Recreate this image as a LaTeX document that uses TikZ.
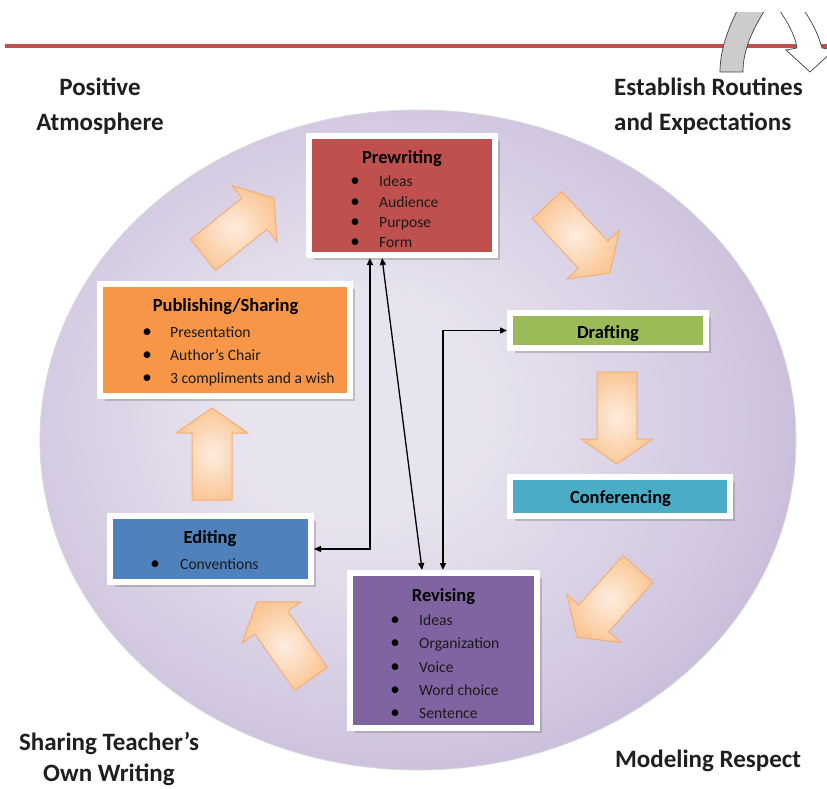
\documentclass[tikz,border=0pt]{standalone}
\usepackage{fontspec}
\setmainfont{Carlito}
\usetikzlibrary{calc,arrows.meta,shadows}
\definecolor{cred}{HTML}{C0504D}
\definecolor{corange}{HTML}{F79646}
\definecolor{cgreen}{HTML}{9BBB59}
\definecolor{ccyan}{HTML}{4BACC6}
\definecolor{cblue}{HTML}{4F81BD}
\definecolor{cpurple}{HTML}{8064A2}
\definecolor{circin}{HTML}{E8E4EF}
\definecolor{circmid}{HTML}{D2C7E0}
\definecolor{circout}{HTML}{B8A4CD}
\definecolor{peachin}{HTML}{FEEDE0}
\definecolor{peachout}{HTML}{FAC898}
\definecolor{peachline}{HTML}{F2AE74}
\definecolor{txt}{HTML}{1A1A1A}
\pgfdeclareradialshading{circshade}{\pgfpoint{-5bp}{3bp}}{%
  color(0bp)=(circin); color(8bp)=(circin); color(24bp)=(circmid); color(38bp)=(circout); color(50bp)=(circout)}
\newcommand\blockarrow[2]{%
  \coordinate (T) at (#1);
  \coordinate (P) at (#2);
  \coordinate (B) at ($(P)!25pt!(T)$);
  \shadedraw[bigarrow] ($(T)!20pt!90:(P)$) -- ($(B)!20pt!-90:(T)$) -- ($(B)!36pt!-90:(T)$) -- (P)
    -- ($(B)!36pt!90:(T)$) -- ($(B)!20pt!90:(T)$) -- ($(T)!20pt!-90:(P)$) -- cycle;}
\begin{document}
\begin{tikzpicture}[x=1pt,y=-1pt,
  stagebox/.style={draw=white, line width=6pt, inner sep=0pt,
    drop shadow={shadow xshift=4.5pt, shadow yshift=-5pt, fill=black!55, opacity=.35}},
  ttl/.style={font=\fontsize{18.5}{20}\selectfont\bfseries, anchor=base, inner sep=0pt, text=black},
  itm/.style={font=\fontsize{15.6}{17}\selectfont, anchor=base west, inner sep=0pt, text=txt},
  blt/.style={font=\fontsize{19}{17}\selectfont, anchor=base, inner sep=0pt, text=black},
  corner/.style={font=\fontsize{25}{28}\selectfont\bfseries, inner sep=0pt, text=black!88},
  conn/.style={line width=1.3pt, {Triangle[length=7pt,width=6pt]}-{Triangle[length=7pt,width=6pt]}},
  bigarrow/.style={inner color=peachin, outer color=peachout, draw=peachline, line width=1pt, line join=round}]
\useasboundingbox (0,0) rectangle (827,789);
\fill[white] (0,0) rectangle (827,789);

% background circle
\path[shading=circshade, draw=black!15, line width=0.8pt]
  (418,440) ellipse [x radius=378, y radius=330];

% header rule and icon
\draw[cred, line width=4pt] (5,46) -- (827,46);
\begin{scope}
  \clip (700,13) rectangle (827,100);
  \filldraw[fill=black!20, draw=black!75, line width=0.7pt]
    (720,72) .. controls (720,50) and (728,28) .. (740,5) -- (768,5)
    .. controls (752,30) and (743,50) .. (743,72) -- cycle;
  \filldraw[fill=white, draw=black!75, line width=0.7pt]
    (775,5) .. controls (786,18) and (795,35) .. (797,48) -- (786,50) -- (810,72) -- (834,50)
    -- (822,48) .. controls (818,33) and (810,18) .. (800,5) -- cycle;
\end{scope}

% block arrows of the cycle
\blockarrow{203,255}{274,198}
\blockarrow{547,205}{610,273}
\blockarrow{617,372}{617,464}
\blockarrow{638,569}{577,637}
\blockarrow{311,679}{257,602}
\blockarrow{212,500}{212,408}

% stage boxes
\node[stagebox, fill=cred, minimum width=186pt, minimum height=119pt] (pre) at (402,195.5) {};
\node[stagebox, fill=corange, minimum width=250pt, minimum height=112pt] (pub) at (225,340) {};
\node[stagebox, fill=cgreen, minimum width=196pt, minimum height=35pt] (draft) at (608,330.5) {};
\node[stagebox, fill=ccyan, minimum width=220pt, minimum height=39pt] (conf) at (620,496.5) {};
\node[stagebox, fill=cblue, minimum width=201pt, minimum height=66pt] (edit) at (210.5,549) {};
\node[stagebox, fill=cpurple, minimum width=187pt, minimum height=155pt] (rev) at (443.5,650.5) {};

% texts in boxes
\node[ttl] (preT) at (402,163) {Prewriting};
\foreach \t/\y [count=\i] in {Ideas/186, Audience/207, Purpose/227, Form/247} {
  \node[blt] (preb\i) at (355,\y) {\textbullet};
  \node[itm] (pre\i) at (379,\y) {\t};
}
\node[ttl] (pubT) at (225.5,311.5) {Publishing/Sharing};
\foreach \t/\y [count=\i] in {Presentation/337, Author’s Chair/360, 3 compliments and a wish/383} {
  \node[blt] (pubb\i) at (147,\y) {\textbullet};
  \node[itm] (pub\i) at (170,\y) {\t};
}
\begin{scope}
  \clip (513,316) rectangle (703,340);
  \node[ttl] (draftT) at (608,338.5) {Drafting};
\end{scope}
\node[ttl] (confT) at (620.5,503) {Conferencing};
\node[ttl] (editT) at (210,543) {Editing};
\node[blt] (editb1) at (155,569) {\textbullet};
\node[itm] (edit1) at (180,569) {Conventions};
\node[ttl] (revT) at (443.5,601.5) {Revising};
\foreach \t/\y [count=\i] in {Ideas/625, Organization/648.5, Voice/672, Word choice/695, Sentence/718.5} {
  \node[blt] (revb\i) at (395,\y) {\textbullet};
  \node[itm] (rev\i) at (419,\y) {\t};
}

% connectors
\draw[conn] (edit.east) -| ($(pre.south west)!0.333!(pre.south east)$);
\draw[conn] ($(pre.south west)!0.396!(pre.south east)$) -- ($(rev.north west)!0.389!(rev.north east)$);
\draw[conn] (draft.west) -| ($(rev.north west)!0.497!(rev.north east)$);

% corner captions
\node[corner, anchor=base] (pos1) at (100,96) {Positive};
\node[corner, anchor=base] (pos2) at (100,131) {Atmosphere};
\node[corner, anchor=base west] (est1) at (614,96) {Establish Routines};
\node[corner, anchor=base west] (est2) at (614,131) {and Expectations};
\node[corner, anchor=base] (sha1) at (109,750) {Sharing Teacher’s};
\node[corner, anchor=base] (sha2) at (109,781) {Own Writing};
\node[corner, anchor=base] (mod1) at (708,767) {Modeling Respect};
\end{tikzpicture}
\end{document}
